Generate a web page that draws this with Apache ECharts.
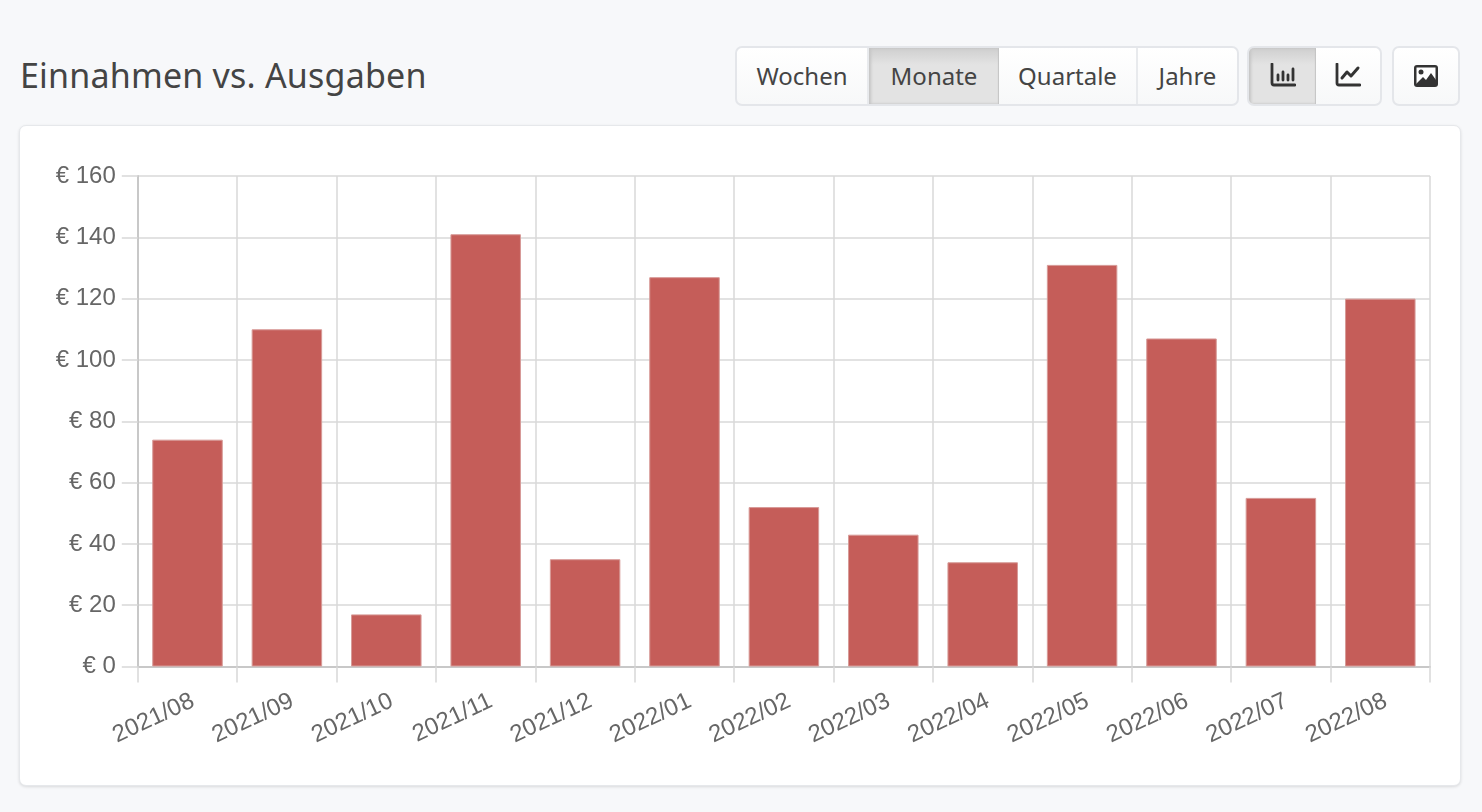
<!DOCTYPE html>
<html><head><meta charset="utf-8">
<script src="https://cdn.jsdelivr.net/npm/echarts@6/dist/echarts.min.js"></script>
<style>
html,body{margin:0;padding:0;width:1482px;height:812px;overflow:hidden;background:#f7f8fa;font-family:"Noto Sans","Open Sans",sans-serif;color:#333}
#title{position:absolute;left:20px;top:52px;font-size:34px;line-height:46px;color:#444;font-family:"Noto Sans";font-weight:400;letter-spacing:.2px}
.group{position:absolute;top:46px;height:56px;display:flex;border:2px solid #e4e6ea;border-radius:7px;background:linear-gradient(#fff,#f7f8f9);overflow:hidden}
.btn{display:flex;align-items:center;justify-content:center;font-size:24px;color:#444;box-sizing:border-box;height:100%;border-right:2px solid #e8eaed;padding-bottom:2px}
.btn:last-child{border-right:none}
.on{background:linear-gradient(#cfcfcf,#e3e3e3 30%);box-shadow:inset 2px 0 3px #c4c4c4, inset -1px 0 1px #c4c4c4;border-right:none}
#card{position:absolute;left:19px;top:125px;width:1442px;height:661px;background:#fff;border:1px solid #e6e8eb;border-radius:7px;box-shadow:0 1px 3px rgba(0,0,0,.12);box-sizing:border-box}
#chart{position:absolute;left:0;top:0;width:1482px;height:812px}
svg{display:block}
</style></head><body>
<div id="title">Einnahmen vs. Ausgaben</div>
<div class="group" style="left:735px;width:500px">
<div class="btn" style="width:132px">Wochen</div>
<div class="btn on" style="width:130px">Monate</div>
<div class="btn" style="width:139px">Quartale</div>
<div class="btn" style="width:99px">Jahre</div>
</div>
<div class="group" style="left:1247px;width:131px">
<div class="btn on" style="width:67px"><svg width="26" height="24" viewBox="0 0 26 24"><path d="M2 1v19a2 2 0 0 0 2 2h21" fill="none" stroke="#333" stroke-width="2.8" stroke-linecap="round"/><path d="M8 12v5M13 9v8M18 12v5M23 6v11" stroke="#333" stroke-width="2.8" stroke-linecap="round"/></svg></div>
<div class="btn" style="width:64px"><svg width="26" height="24" viewBox="0 0 26 24"><path d="M2 1v19a2 2 0 0 0 2 2h21" fill="none" stroke="#333" stroke-width="2.8" stroke-linecap="round"/><path d="M7 15l5-6 4 4 7-8" fill="none" stroke="#333" stroke-width="3" stroke-linecap="round" stroke-linejoin="round"/></svg></div>
</div>
<div class="group" style="left:1392px;width:64px;justify-content:center;align-items:center">
<svg width="24" height="24" viewBox="0 0 24 24"><rect x="0" y="1" width="24" height="22" rx="3" fill="#333"/><rect x="2.5" y="3.5" width="19" height="16.5" fill="#fff"/><circle cx="7" cy="8" r="2.5" fill="#333"/><path d="M2 20l7-7 3 3 5-7 5 7v4z" fill="#333"/></svg>
</div>
<div id="card"></div>
<div id="chart"></div>
<script>
const categories = ["2021/08","2021/09","2021/10","2021/11","2021/12","2022/01","2022/02","2022/03","2022/04","2022/05","2022/06","2022/07","2022/08"];
const expenses = [74,110,17,141,35,127,52,43,34,131,107,55,120];
const chart = echarts.init(document.getElementById('chart'), null, {renderer:'canvas'});
chart.setOption({
  animation:false,
  grid:{left:137.8,right:52,top:176,bottom:145.5,containLabel:false},
  xAxis:{type:'category',data:categories,boundaryGap:true,
    axisLine:{lineStyle:{color:'#c8c8c8',width:2}},
    axisTick:{show:true,alignWithLabel:false,length:16,lineStyle:{color:'#d8d8d8',width:1.5}},
    splitLine:{show:true,lineStyle:{color:'#d8d8d8',width:1.5}},
    axisLabel:{interval:0,rotate:25,margin:36,padding:[0,-6,0,0],fontFamily:'Liberation Sans',fontSize:24,color:'#666666'}},
  yAxis:{type:'value',min:0,max:160,interval:20,
    axisLine:{show:true,lineStyle:{color:'#c8c8c8',width:2}},
    axisTick:{show:true,length:16,lineStyle:{color:'#d8d8d8',width:1.5}},
    splitLine:{show:true,lineStyle:{color:'#d8d8d8',width:1.5}},
    axisLabel:{margin:22,padding:[4,0,0,0],fontFamily:'Liberation Sans',fontSize:24,color:'#666666',formatter:v=>'€ '+v}},
  series:[{type:'bar',data:expenses,barWidth:70.5,
    itemStyle:{color:'#c55d59',borderColor:'#d79a97',borderWidth:1}}]
});
</script>
</body></html>
